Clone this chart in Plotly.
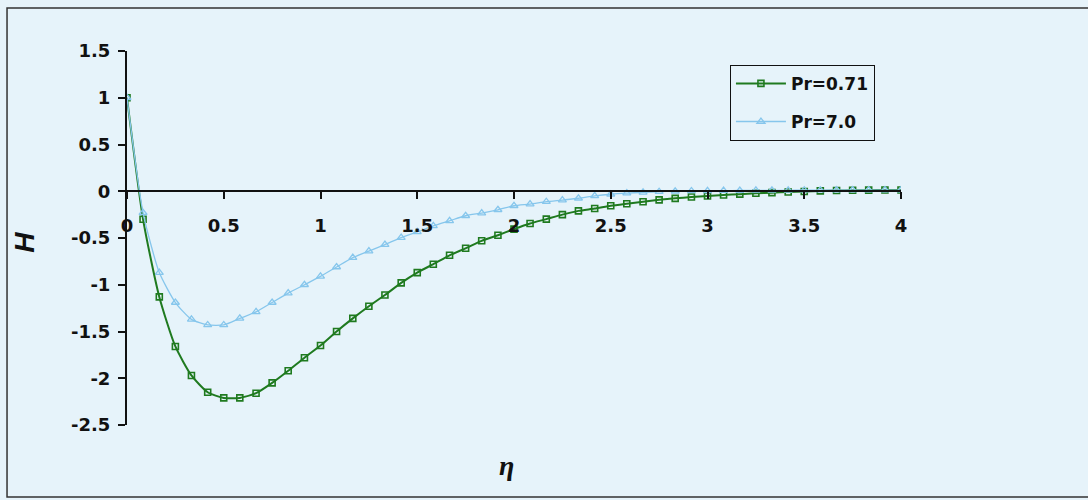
import plotly.graph_objects as go

# similarity variable eta (step 1/12)
eta = [0.0, 0.083, 0.167, 0.25, 0.333, 0.417, 0.5, 0.583, 0.667, 0.75, 0.833, 0.917,
       1.0, 1.083, 1.167, 1.25, 1.333, 1.417, 1.5, 1.583, 1.667, 1.75, 1.833, 1.917,
       2.0, 2.083, 2.167, 2.25, 2.333, 2.417, 2.5, 2.583, 2.667, 2.75, 2.833, 2.917,
       3.0, 3.083, 3.167, 3.25, 3.333, 3.417, 3.5, 3.583, 3.667, 3.75, 3.833, 3.917, 4.0]

# H profile, Pr = 0.71
h_pr071 = [1.0, -0.30, -1.13, -1.66, -1.97, -2.15, -2.21, -2.21, -2.16, -2.05, -1.92, -1.78,
           -1.65, -1.50, -1.36, -1.23, -1.11, -0.98, -0.87, -0.78, -0.685, -0.61, -0.53, -0.47,
           -0.405, -0.345, -0.298, -0.25, -0.21, -0.185, -0.155, -0.133, -0.112, -0.092, -0.076, -0.062,
           -0.050, -0.040, -0.031, -0.022, -0.015, -0.008, -0.002, 0.004, 0.008, 0.010, 0.012, 0.013, 0.014]

# H profile, Pr = 7.0
h_pr70 = [1.0, -0.23, -0.87, -1.19, -1.37, -1.43, -1.43, -1.36, -1.29, -1.19, -1.09, -1.00,
          -0.91, -0.81, -0.71, -0.64, -0.57, -0.495, -0.435, -0.37, -0.316, -0.262, -0.233, -0.198,
          -0.155, -0.137, -0.112, -0.094, -0.075, -0.050, -0.032, -0.020, -0.012, -0.005, 0.0, 0.003,
          0.005, 0.007, 0.008, 0.009, 0.010, 0.010, 0.011, 0.011, 0.012, 0.012, 0.012, 0.013, 0.013]

x_ticks = [0, 0.5, 1, 1.5, 2, 2.5, 3, 3.5, 4]
x_tick_text = ["0", "0.5", "1", "1.5", "2", "2.5", "3", "3.5", "4"]
y_ticks = [-2.5, -2, -1.5, -1, -0.5, 0, 0.5, 1, 1.5]
y_tick_text = ["-2.5", "-2", "-1.5", "-1", "-0.5", "0", "0.5", "1", "1.5"]

BG = "#e6f3fa"
GREEN = "#1f7a1f"
BLUE = "#86c6ec"
INK = "#111111"

fig = go.Figure()
fig.add_trace(go.Scatter(
    x=eta, y=h_pr071, name="Pr=0.71", mode="lines+markers",
    line=dict(color=GREEN, width=2, shape="spline", smoothing=0.6),
    marker=dict(symbol="square-open", size=6, color=GREEN, line=dict(width=1.6, color=GREEN)),
    legendgroup="a",
))
fig.add_trace(go.Scatter(
    x=eta, y=h_pr70, name="Pr=7.0", mode="lines+markers",
    line=dict(color=BLUE, width=1.3, shape="spline", smoothing=0.6),
    marker=dict(symbol="triangle-up-open", size=7, color=BLUE, line=dict(width=1.3, color=BLUE)),
    legendgroup="b",
))

tick_font = dict(family="DejaVu Sans, sans-serif", size=18, color=INK, weight="bold")

fig.update_layout(
    width=1088, height=500,
    margin=dict(l=127, r=187, t=51, b=75),
    paper_bgcolor=BG, plot_bgcolor=BG,
    showlegend=True,
    legend=dict(
        x=0.779, y=0.963, xanchor="left", yanchor="top",
        bgcolor=BG, bordercolor=INK, borderwidth=1,
        font=dict(family="DejaVu Sans, sans-serif", size=17, color=INK, weight="bold"),
        traceorder="grouped", tracegroupgap=13,
        itemwidth=50, entrywidth=140,
    ),
    xaxis=dict(
        range=[0, 4], tickvals=x_ticks, ticktext=x_tick_text,
        showgrid=False, zeroline=False, showline=True, linecolor=INK, linewidth=2,
        ticks="outside", ticklen=7, tickwidth=2, tickcolor=INK,
        anchor="free", position=0.625, ticklabelstandoff=11,
        tickfont=tick_font,
    ),
    yaxis=dict(
        range=[-2.5, 1.5], tickvals=y_ticks, ticktext=y_tick_text,
        showgrid=False, zeroline=False, showline=True, linecolor=INK, linewidth=2,
        ticks="outside", ticklen=7, tickwidth=2, tickcolor=INK,
        ticklabelstandoff=4, tickfont=tick_font,
    ),
    annotations=[
        dict(text="<b><i>η</i></b>", x=0.49, y=-0.107, xref="paper", yref="paper",
             xanchor="center", yanchor="middle", showarrow=False,
             font=dict(family="Liberation Serif, serif", size=28, color=INK)),
        dict(text="<b><i>H</i></b>", x=-0.1318, y=0.49, xref="paper", yref="paper",
             xanchor="center", yanchor="middle", showarrow=False, textangle=-90,
             font=dict(family="Liberation Sans, Arial, sans-serif", size=28, color=INK)),
    ],
    shapes=[
        dict(type="rect", xref="paper", yref="paper", x0=-0.155, x1=1.245, y0=-0.1925, y1=1.115,
             line=dict(color="#333333", width=1.5), layer="below"),
    ],
)

fig.write_html("out.html")
